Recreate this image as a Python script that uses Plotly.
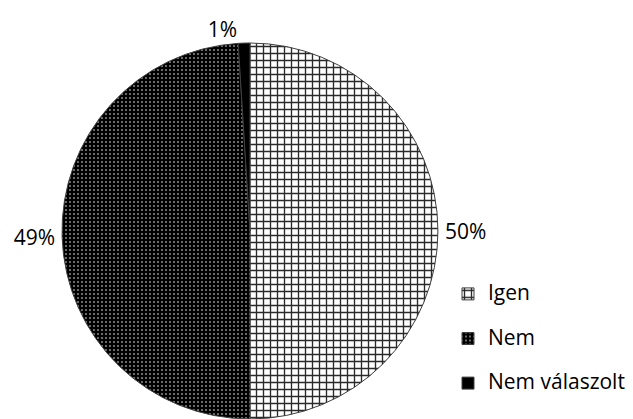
import plotly.graph_objects as go

labels = ["Igen", "Nem", "Nem válaszolt"]
values = [50, 49, 1]

# the reference legend rows sit ~45px apart: small legend font sets the row height,
# an empty second line doubles it, and a span brings the visible text back up to size
legend_labels = ["<span style='font-size:21px'>%s</span><br> " % lab for lab in labels]

W, H = 633, 419

fig = go.Figure(go.Pie(
    labels=legend_labels,
    values=values,
    sort=False,
    direction="clockwise",
    rotation=0,
    textinfo="percent",
    textposition="outside",
    textfont=dict(size=21, color="#000000"),
    marker=dict(
        colors=["#ffffff", "#000000", "#000000"],
        line=dict(color="#404040", width=1),
        pattern=dict(
            shape=["+", ".", ""],
            bgcolor=["#ffffff", "#000000", "#000000"],
            fgcolor=["#2a2a2a", "#ffffff", "#000000"],
            size=[7, 4, 8],
            solidity=[0.35, 0.12, 0.3],
            fillmode="replace",
        ),
    ),
    domain=dict(x=[54 / W, 430 / W], y=[8 / H, 384 / H]),
    hoverinfo="skip",
))

fig.update_layout(
    width=W,
    height=H,
    margin=dict(l=0, r=0, t=0, b=0),
    paper_bgcolor="white",
    font=dict(family="Open Sans, Liberation Sans, sans-serif", size=21, color="#000000"),
    legend=dict(
        x=440 / W, y=(H - 269) / H,
        xanchor="left", yanchor="top",
        valign="top",
        font=dict(size=16),
        bgcolor="rgba(0,0,0,0)",
    ),
)

fig.write_html("out.html")
